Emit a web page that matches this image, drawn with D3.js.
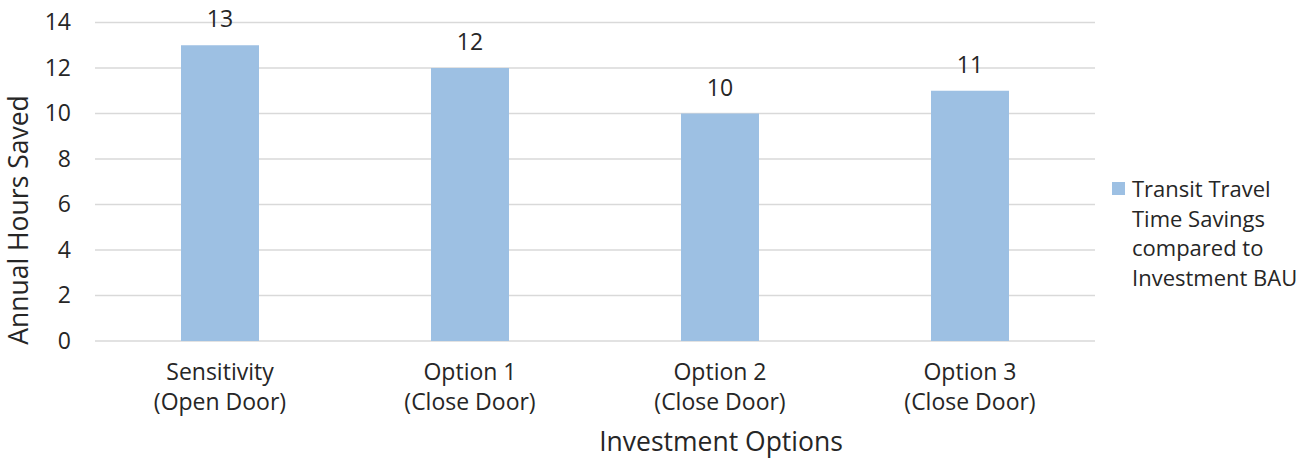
<!DOCTYPE html>
<html><head><meta charset="utf-8">
<script src="https://cdn.jsdelivr.net/npm/d3@7"></script>
<style>
html,body{margin:0;padding:0;background:#fff;}
text{font-family:"Open Sans","Noto Sans",sans-serif;fill:#262626;}
</style></head>
<body><svg id="c" width="1315" height="458"></svg>
<script>
const categories = [["Sensitivity","(Open Door)"],["Option 1","(Close Door)"],["Option 2","(Close Door)"],["Option 3","(Close Door)"]];
const values = [13, 12, 10, 11];
const yTicks = [0,2,4,6,8,10,12,14];
const seriesName = ["Transit Travel","Time Savings","compared to","Investment BAU"];
const yTitle = "Annual Hours Saved";
const xTitle = "Investment Options";

(function(){
const svg = d3.select("#c");
const pL = 95, pR = 1095, pT = 22.5, pB = 341;
const fsTick = 23, fsLeg = 22, fsTitle = 26.5;
const ff = '"Open Sans","Noto Sans",sans-serif';
const x = d3.scaleBand().domain(categories.map((d,i)=>i)).range([pL,pR]).paddingInner(0.688).paddingOuter(0.344);
const y = d3.scaleLinear().domain([0,14]).range([pB,pT]);
const color = "#9DC0E3";

svg.append("g").selectAll("line").data(yTicks).join("line")
  .attr("x1",pL).attr("x2",pR)
  .attr("y1",d=>y(d)).attr("y2",d=>y(d))
  .attr("stroke","#D9D9D9").attr("stroke-width",1.5);

const ya = svg.append("g").attr("transform",`translate(${pL},0)`)
  .call(d3.axisLeft(y).tickValues(yTicks).tickSize(0).tickPadding(24));
ya.select(".domain").remove();
ya.selectAll("text").style("font-family",ff).style("font-size",fsTick+"px").attr("fill","#262626");

svg.append("g").selectAll("rect").data(values).join("rect")
  .attr("x",(d,i)=>x(i)).attr("width",x.bandwidth())
  .attr("y",d=>y(d)).attr("height",d=>y(0)-y(d))
  .attr("fill",color);

svg.append("g").selectAll("text").data(values).join("text")
  .attr("x",(d,i)=>x(i)+x.bandwidth()/2).attr("y",d=>y(d)-18)
  .attr("text-anchor","middle").style("font-size",fsTick+"px").text(d=>d);

const xl = svg.append("g").selectAll("text").data(categories).join("text")
  .attr("x",(d,i)=>x(i)+x.bandwidth()/2).attr("y",380)
  .attr("text-anchor","middle").style("font-size",fsTick+"px");
xl.each(function(d,i){
  const t = d3.select(this);
  d.forEach((line,j)=>{
    t.append("tspan").attr("x",x(i)+x.bandwidth()/2).attr("y",380+j*29.5).text(line);
  });
});

svg.append("text").attr("x",721).attr("y",450.5).attr("text-anchor","middle").style("font-size",fsTitle+"px").text(xTitle);
svg.append("text").attr("transform","translate(28,220) rotate(-90)").attr("text-anchor","middle").style("font-size",fsTitle+"px").text(yTitle);

svg.append("rect").attr("x",1112).attr("y",182).attr("width",13).attr("height",13).attr("fill",color);
const lg = svg.append("text").style("font-size",fsLeg+"px");
seriesName.forEach((s,j)=>{
  lg.append("tspan").attr("x",1132).attr("y",197+j*29.5).text(s);
});
})();
</script></body></html>
